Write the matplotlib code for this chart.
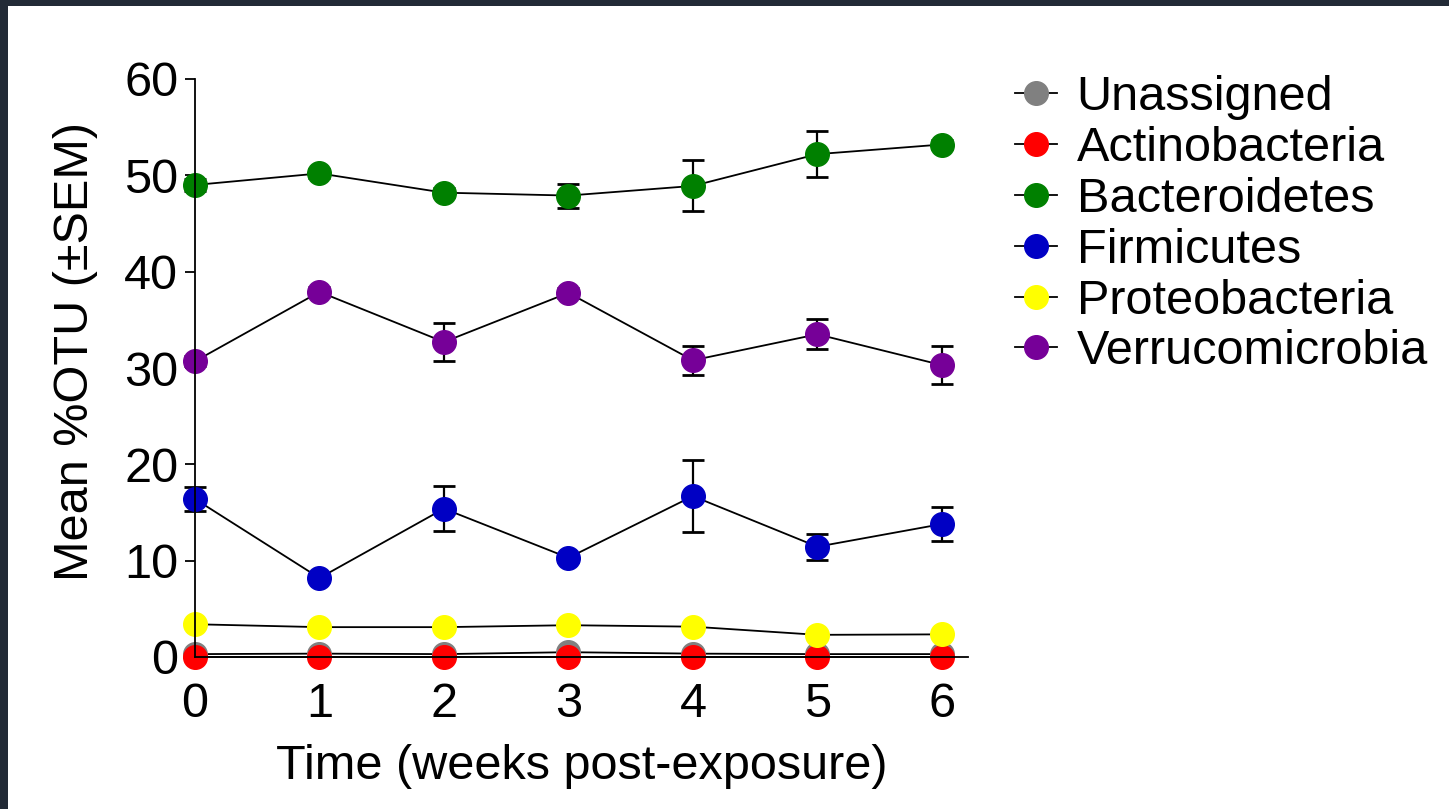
import matplotlib.pyplot as plt
import numpy as np
from matplotlib.lines import Line2D
from matplotlib.patches import Rectangle

plt.rcParams['font.family'] = ['Liberation Sans', 'DejaVu Sans']

weeks = [0, 1, 2, 3, 4, 5, 6]
names = ["Unassigned", "Actinobacteria", "Bacteroidetes", "Firmicutes",
         "Proteobacteria", "Verrucomicrobia"]
colors = ["#808080", "#ff0000", "#008000", "#0000c4", "#ffff00", "#760098"]

unassigned = [0.3, 0.35, 0.3, 0.5, 0.35, 0.3, 0.3]
actino = [0.05, 0.05, 0.05, 0.05, 0.05, 0.05, 0.05]
bactero = [49.0, 50.2, 48.2, 47.9, 48.9, 52.2, 53.2]
firmi = [16.4, 8.2, 15.4, 10.3, 16.7, 11.45, 13.8]
proteo = [3.4, 3.1, 3.1, 3.3, 3.15, 2.3, 2.35]
verruco = [30.7, 37.9, 32.7, 37.8, 30.8, 33.5, 30.3]

unassigned_sem = [0.05, 0.05, 0.05, 0.1, 0.05, 0.05, 0.05]
actino_sem = [0.02, 0.02, 0.02, 0.02, 0.02, 0.02, 0.02]
bactero_sem = [0.6, 0.5, 0.5, 1.25, 2.65, 2.4, 0.5]
firmi_sem = [1.25, 0.4, 2.3, 0.4, 3.7, 1.35, 1.8]
proteo_sem = [0.3, 0.2, 0.2, 0.2, 0.2, 0.2, 0.2]
verruco_sem = [0.5, 0.5, 1.95, 0.5, 1.5, 1.55, 2.0]

series = [unassigned, actino, bactero, firmi, proteo, verruco]
sems = [unassigned_sem, actino_sem, bactero_sem, firmi_sem, proteo_sem, verruco_sem]

fs = 35

fig = plt.figure(figsize=(14.49, 8.09), dpi=100)
fig.patch.set_facecolor("#222a36")
# white page, leaving the dark strip on the top and left edges
fig.patches.append(Rectangle((8 / 1449, 0), 1, 1 - 6 / 809, transform=fig.transFigure,
                             facecolor="white", edgecolor="none", zorder=-10))

ax = fig.add_axes([195 / 1449, 1 - 657 / 809, (968 - 195) / 1449, (657 - 79) / 809])
ax.set_facecolor("none")

for vals, err, c in zip(series, sems, colors):
    ax.errorbar(weeks, vals, yerr=err, color="black", lw=1.3, marker="o", ms=17,
                mfc=c, mec=c, ecolor="black", elinewidth=1.6, capsize=8, capthick=2,
                clip_on=False)

ax.set_xlim(0, 6.21)
ax.set_ylim(0, 60)
ax.set_xticks(weeks)
ax.set_yticks([0, 10, 20, 30, 40, 50, 60])
ax.spines["top"].set_visible(False)
ax.spines["right"].set_visible(False)
ax.spines["left"].set_linewidth(1.3)
ax.spines["bottom"].set_linewidth(1.3)
ax.tick_params(axis="y", length=7, width=1.3, pad=5, labelsize=fs)
ax.tick_params(axis="x", length=0, pad=18, labelsize=fs)

ax.set_xlabel("Time (weeks post-exposure)", fontsize=fs, labelpad=12)
ax.set_ylabel("Mean %OTU (±SEM)", fontsize=fs)
ax.yaxis.set_label_coords(-0.125, 0.528)

handles = [Line2D([], [], color="black", lw=1.3, marker="o", ms=17, mfc=c, mec=c)
           for c in colors]
ax.legend(handles, names, loc="upper left", bbox_to_anchor=(1.036, 1.04), frameon=False,
          fontsize=fs, handlelength=0.86, handletextpad=0.4, labelspacing=0.12,
          borderaxespad=0)

fig.savefig("out.png", dpi=100, facecolor=fig.get_facecolor())
